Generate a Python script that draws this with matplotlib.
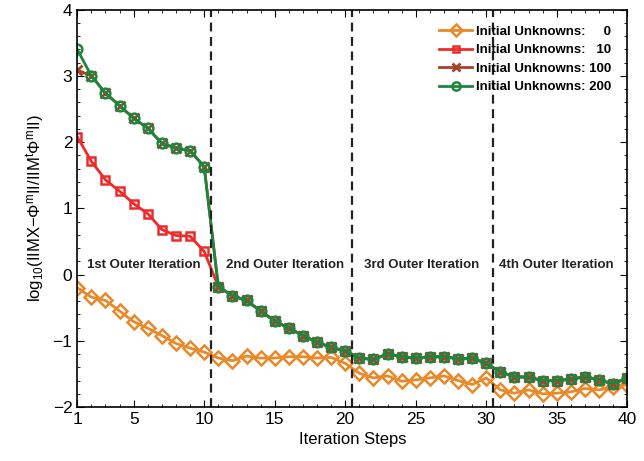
import numpy as np
import matplotlib
matplotlib.use("Agg")
import matplotlib.pyplot as plt
from matplotlib.ticker import MultipleLocator

plt.rcParams["font.family"] = ["Liberation Sans", "DejaVu Sans"]
plt.rcParams["mathtext.fontset"] = "custom"
plt.rcParams["mathtext.rm"] = "Liberation Sans"
plt.rcParams["mathtext.it"] = "Liberation Sans"

steps = np.arange(1, 41)

# values
head_0 = [-0.20, -0.34, -0.39, -0.55, -0.71, -0.81, -0.92, -1.04, -1.11, -1.17]
tail_0 = [-1.26, -1.30, -1.23, -1.26, -1.26, -1.24, -1.24, -1.26, -1.25, -1.34,
          -1.49, -1.56, -1.53, -1.61, -1.59, -1.56, -1.53, -1.60, -1.66, -1.56,
          -1.74, -1.79, -1.74, -1.80, -1.79, -1.77, -1.72, -1.74, -1.70, -1.66]
head_10 = [2.08, 1.71, 1.43, 1.26, 1.07, 0.92, 0.68, 0.59, 0.58, 0.35]
head_100 = [3.09, 3.00, 2.74, 2.55, 2.36, 2.21, 1.98, 1.91, 1.87, 1.63]
head_200 = [3.40, 3.00, 2.74, 2.55, 2.36, 2.21, 1.98, 1.91, 1.87, 1.63]
# after the first outer iteration the 10/100/200 runs are the same
tail_shared = [-0.18, -0.32, -0.39, -0.55, -0.70, -0.81, -0.92, -1.02, -1.10, -1.15,
               -1.26, -1.28, -1.20, -1.24, -1.26, -1.24, -1.24, -1.27, -1.26, -1.34,
               -1.47, -1.54, -1.55, -1.60, -1.60, -1.58, -1.54, -1.59, -1.65, -1.56]

series = {
    "Initial Unknowns:     0": (head_0 + tail_0, "#E8892A", "D", 7),
    "Initial Unknowns:   10": (head_10 + tail_shared, "#EE2B2B", "s", 5.5),
    "Initial Unknowns: 100": (head_100 + tail_shared, "#A3432A", "x", 7),
    "Initial Unknowns: 200": (head_200 + tail_shared, "#1E853E", "o", 7),
}
outer_bounds = [10.5, 20.5, 30.5]
outer_labels = ["1st Outer Iteration", "2nd Outer Iteration",
                "3rd Outer Iteration", "4th Outer Iteration"]
label_x = [5.7, 15.7, 25.4, 35.0]

fig = plt.figure(figsize=(6.44, 4.61), dpi=100)
ax = fig.add_axes([0.12, 0.117, 0.854, 0.862])

for name, (vals, col, mk, size) in series.items():
    if mk == "x":
        ax.plot(steps, vals, color=col, lw=2, marker=mk, ms=size, mew=2, label=name)
    else:
        ax.plot(steps, vals, color=col, lw=2, marker=mk, ms=size,
                mfc="none", mec=col, mew=1.8, label=name)

for b in outer_bounds:
    ax.axvline(b, color="#222222", ls=(0, (4, 2.5)), lw=1.6)

for lx, txt in zip(label_x, outer_labels):
    ax.text(lx, 0.14, txt, ha="center", va="center", fontsize=9.5,
            fontweight="bold", color="#222222")

ax.set_xlim(1, 40)
ax.set_ylim(-2, 4)
ax.set_xticks([1, 5, 10, 15, 20, 25, 30, 35, 40])
ax.xaxis.set_minor_locator(MultipleLocator(1))
ax.yaxis.set_major_locator(MultipleLocator(1))
ax.yaxis.set_minor_locator(MultipleLocator(0.2))
ax.tick_params(which="both", direction="in", top=True, right=True, labelsize=12.5)
ax.tick_params(which="major", length=5)
ax.tick_params(which="minor", length=2.5)
for s in ax.spines.values():
    s.set_linewidth(1.2)

ax.set_xlabel("Iteration Steps", fontsize=12)
ax.set_ylabel(r"log$_{10}$(IIMX$-\Phi^{m}$II/IIM$^{t}\Phi^{m}$II)", fontsize=12)

leg = ax.legend(loc="upper right", frameon=False, prop={"weight": "bold", "size": 9.5},
                handlelength=2.5, handletextpad=0.3, labelspacing=0.48,
                borderaxespad=0.8, markerscale=0.85)

fig.savefig("out.png", dpi=100)
